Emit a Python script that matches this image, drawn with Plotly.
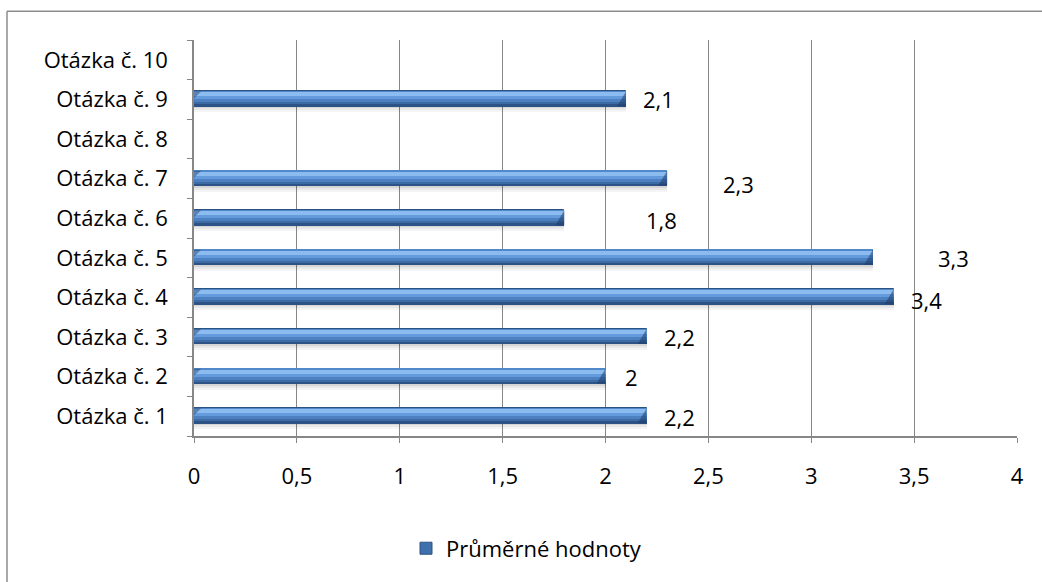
import plotly.graph_objects as go

# Average answer per question (no value for questions 8 and 10)
categories = ["Otázka č. 1", "Otázka č. 2", "Otázka č. 3", "Otázka č. 4", "Otázka č. 5",
              "Otázka č. 6", "Otázka č. 7", "Otázka č. 8", "Otázka č. 9", "Otázka č. 10"]
values = [2.2, 2.0, 2.2, 3.4, 3.3, 1.8, 2.3, None, 2.1, None]
series_name = "Průměrné hodnoty"
x_ticks = [0, 0.5, 1, 1.5, 2, 2.5, 3, 3.5, 4]

# data label placement (pixels from the bar end, left edge of the text)
label_dx = [15, 17, 15, 15, 63, 80, 54, 0, 15, 0]
label_dy = [-1, 0, 0, -3, 0, -2, -5, 0, 0, 0]

FONT = "Open Sans"
FS = 22
GRID = "#878787"

W, H = 1042, 582
L, R, T, B = 194, 25, 40, 144
pw, ph = W - L - R, H - T - B

fig = go.Figure()

xs = [v if v is not None else 0 for v in values]
cat_px = ph / len(categories)
px_per_unit = pw / 4


def band(top_px, bot_px, color, name=None, legend=False, line=None):
    """Horizontal slice of the bar given in pixels relative to the category centre."""
    w = (bot_px - top_px) / cat_px
    off = -bot_px / cat_px
    fig.add_trace(go.Bar(
        y=categories, x=xs, orientation="h",
        width=[w] * len(categories), offset=[off] * len(categories),
        marker=dict(color=color, line=dict(width=0 if line is None else 1,
                                           color=line or color)),
        name=name or "", showlegend=legend, hoverinfo="skip"))


# soft shadow under each bar
band(7, 9, "rgba(0,0,0,0.16)")
band(9, 11, "rgba(0,0,0,0.09)")
band(11, 13, "rgba(0,0,0,0.04)")
# bar body, from top edge down to dark bottom edge
band(-8, 7, "#3f70ad", name=series_name, legend=True, line="#2c5282")
band(-8, -7, "#5088c9")
band(-7, -3, "#8cbcef")
band(-3, 0, "#649bdc")
band(0, 3, "#4c80c0")
band(3, 5, "#3d6ba3")
band(5, 7, "#2d5285")

# bevelled ends of each bar
dx = 9 / px_per_unit
top = 8 / cat_px
bot = 7 / cat_px
for i, v in enumerate(values):
    if v is None:
        continue
    fig.add_shape(type="path", xref="x", yref="y", layer="above",
                  path=f"M {v},{i + top} L {v},{i - bot} L {v - dx},{i - bot} Z",
                  fillcolor="rgba(30,60,105,0.55)", line=dict(width=0))
    fig.add_shape(type="path", xref="x", yref="y", layer="above",
                  path=f"M 0,{i + top} L {dx * 0.8},{i + top} L 0,{i + top - 0.18} Z",
                  fillcolor="rgba(30,60,105,0.45)", line=dict(width=0))

# data labels
for i, (c, v) in enumerate(zip(categories, values)):
    if v is None:
        continue
    txt = f"{v:g}".replace(".", ",")
    fig.add_annotation(x=v, y=c, text=txt, showarrow=False, xanchor="left",
                       xshift=label_dx[i], yshift=label_dy[i],
                       font=dict(family=FONT, size=FS, color="#000000"))

# outer chart frame (top and left edges)
fx0 = (7 - L) / pw
fy1 = (H - B - 11) / ph
fig.add_shape(type="line", xref="paper", yref="paper", x0=fx0, x1=1.2, y0=fy1, y1=fy1,
              line=dict(color="#8c8c8c", width=1.5))
fig.add_shape(type="line", xref="paper", yref="paper", x0=fx0, x1=fx0, y0=fy1, y1=-0.5,
              line=dict(color="#8c8c8c", width=1.5))

fig.update_layout(
    width=W, height=H,
    margin=dict(l=L, r=R, t=T, b=B),
    paper_bgcolor="white", plot_bgcolor="white",
    barmode="overlay", bargap=0,
    separators=", ",
    font=dict(family=FONT, size=FS, color="#000000"),
    legend=dict(orientation="h", x=(406 - L) / pw, y=(H - B - 551) / ph,
                xanchor="left", yanchor="middle", font=dict(size=FS),
                itemwidth=30, traceorder="normal"),
    xaxis=dict(range=[0, 4], tickvals=x_ticks, showgrid=True, gridcolor=GRID,
               gridwidth=1, showline=True, linecolor=GRID, linewidth=1.5,
               ticks="outside", ticklen=5, tickcolor=GRID, zeroline=False,
               ticklabelstandoff=15, tickfont=dict(size=FS)),
    yaxis=dict(type="category", categoryorder="array", categoryarray=categories,
               range=[-0.5, 9.5], showgrid=False, showline=True, linecolor=GRID,
               linewidth=1.5, ticks="outside", ticklen=5, tickcolor=GRID,
               tickson="boundaries", ticklabelstandoff=20, tickfont=dict(size=FS)),
)

fig.write_html("out.html")
